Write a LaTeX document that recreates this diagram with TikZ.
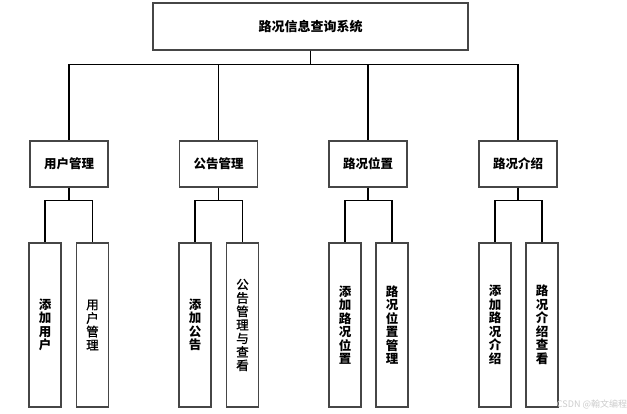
\documentclass[tikz,border=0pt]{standalone}
\usepackage{fontspec}
\newfontfamily\cjk{Noto Sans CJK SC}
\newfontfamily\cjkmid[FakeBold=1.2]{Noto Sans CJK SC}
\begin{document}
\begin{tikzpicture}[x=1pt,y=-1pt,
  box/.style={draw=gray!55!black, line width=1.2pt, fill=white, inner sep=0pt, align=center,
    font=\cjkmid\fontsize{12.5}{13.5}\selectfont},
  topbox/.style={box, minimum width=315pt, minimum height=47pt, font=\cjk\bfseries\fontsize{13}{15}\selectfont},
  midbox/.style={box, minimum width=78pt, minimum height=46pt, font=\cjk\bfseries\fontsize{12.5}{15}\selectfont},
  leafbox/.style={box, minimum width=32pt, minimum height=164pt},
  bleaf/.style={leafbox, font=\cjk\bfseries\fontsize{12.5}{13.5}\selectfont},
  link/.style={draw=black, line width=1.2pt}]
\useasboundingbox (0,0) rectangle (627,414);

\node[topbox] (top) at (310.5,26.5) {路况信息查询系统};

\node[midbox] (m1) at (69,164) {用户管理};
\node[midbox] (m2) at (218.5,164) {公告管理};
\node[midbox] (m3) at (368,164) {路况位置};
\node[midbox] (m4) at (518,164) {路况介绍};

\node[bleaf] (a1) at (45,325) {添\\加\\用\\户};
\node[leafbox] (a2) at (92.5,325) {用\\户\\管\\理};
\node[bleaf] (b1) at (195,325) {添\\加\\公\\告};
\node[leafbox] (b2) at (242.5,325) {公\\告\\管\\理\\与\\查\\看};
\node[bleaf] (c1) at (345,325) {添\\加\\路\\况\\位\\置};
\node[bleaf] (c2) at (392,325) {路\\况\\位\\置\\管\\理};
\node[bleaf] (d1) at (495,325) {添\\加\\路\\况\\介\\绍};
\node[bleaf] (d2) at (542,325) {路\\况\\介\\绍\\查\\看};

\foreach \m in {m1,m2,m3,m4}
  \draw[link] (top.south) -- ++(0,14) -| (\m.north);

\foreach \p/\c in {m1/a1,m1/a2,m2/b1,m2/b2,m3/c1,m3/c2,m4/d1,m4/d2}
  \draw[link] (\p.south) -- ++(0,13) -| (\c.north);

\node[text=gray!40, font=\cjk\fontsize{9}{10}\selectfont, inner sep=0pt] (wm) at (592,404) {CSDN @翰文编程};
\end{tikzpicture}
\end{document}
